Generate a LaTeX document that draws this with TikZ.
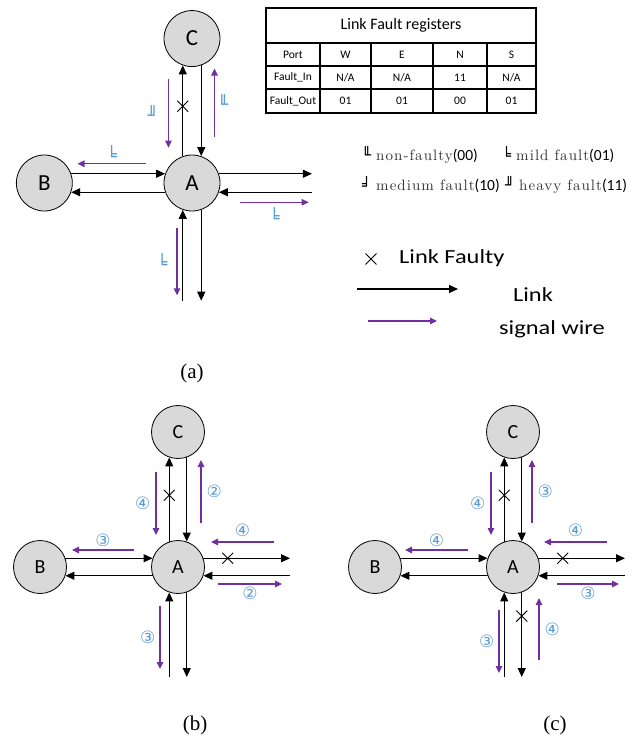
\documentclass[tikz,border=0pt]{standalone}
\usepackage{fontspec}
\usepackage{xcolor}
\usepackage{tikz}
\usetikzlibrary{arrows.meta,shapes.misc,calc}

\newfontfamily\calfont{Carlito}
\newfontfamily\widefont[FakeStretch=1.22]{Carlito}
\newfontfamily\symfont{DejaVu Sans}
\newfontfamily\capfont{Liberation Serif}
\newfontfamily\legfont[LetterSpace=7]{lmroman10-regular.otf}
\newcommand{\fs}[1]{\fontsize{#1}{#1}\selectfont}
\newcommand{\na}{N/A}
\newcommand{\legsym}[1]{{\symfont\fs{15}#1}\hspace{5pt}}
\newcommand{\legword}[1]{{\legfont\color{black!80}\fs{15}#1}}
\newcommand{\legcode}[1]{{\calfont\fs{15.5}#1}}

\definecolor{sigpurple}{HTML}{7030A0}
\definecolor{lblblue}{HTML}{5B9BD5}
\definecolor{nodegray}{HTML}{D9D9D9}

\tikzset{
  router/.style={circle, draw, line width=0.8pt, fill=nodegray, inner sep=0pt},
  link/.style={line width=1.1pt, -{Triangle[length=9pt,width=8pt]}},
  sig/.style={sigpurple, line width=1.1pt, -{Triangle[length=7pt,width=6.5pt]}},
  lbl/.style={lblblue, inner sep=0pt, font=\symfont\fs{17}},
  codelbl/.style={lblblue, inner sep=0pt, font=\symfont\fs{17}},
  fault/.style={cross out, draw, line width=0.9pt, minimum size=10pt, inner sep=0pt},
  cell/.style={font=\calfont\fs{11.5}, inner sep=0pt},
  grid/.style={line width=1.4pt},
}

\newcommand{\router}[3]{%
  \node[router, minimum size=#2, font=\calfont\fs{#3}] (#1A) at (0,0) {A};
  \node[router, minimum size=#2, font=\calfont\fs{#3}] (#1B) at (-138,0) {B};
  \node[router, minimum size=#2, font=\calfont\fs{#3}] (#1C) at (0,135) {C};
  \coordinate (#1E) at (112,0);
  \coordinate (#1S) at (0,-110);
  \draw[link] (#1A.109) -- (#1C.251);
  \draw[link] (#1C.289) -- (#1A.71);
  \draw[link] (#1B.19) -- (#1A.161);
  \draw[link] (#1A.199) -- (#1B.341);
  \draw[link] (#1A.19) -- (#1A.19 -| #1E);
  \draw[link] (#1A.341 -| #1E) -- (#1A.341);
  \draw[link] (#1A.251 |- #1S) -- (#1A.251);
  \draw[link] (#1A.289) -- (#1A.289 |- #1S);
}

\begin{document}
\begin{tikzpicture}[x=1pt,y=1pt]
\useasboundingbox (0,0) rectangle (639,-739);

\begin{scope}[shift={(192,-183)}, scale=1.07]
\router{a}{56pt}{23}
\node[fault] (aXn) at ($(aA.109)!0.55!(aC.251)$) {};
\draw[sig] (-22,97) -- (-22,33) node[codelbl, midway, left=10pt] {╜};
\draw[sig] (21,43) -- (21,107) node[codelbl, midway, right=3pt] {╙};
\draw[sig] (-43,18) -- (-107,18) node[codelbl, midway, above=2pt] {╘};
\draw[sig] (45,-18) -- (109,-18) node[codelbl, midway, below=5pt] {╘};
\draw[sig] (-14,-42) -- (-14,-105) node[codelbl, midway, left=9pt] {╘};
\end{scope}

\draw[grid] (266,-8) rectangle (536,-113);
\foreach \y in {43,66,89}
    \draw[grid] (266,-\y) -- (536,-\y);
\foreach \x in {320,371,433,487}
    \draw[grid] (\x,-43) -- (\x,-113);
\node[font=\calfont\fs{16}] (regTitle) at (401,-25.5) {Link Fault registers};
\foreach \x/\p/\i/\o [count=\k] in {293/Port/Fault\_In/Fault\_Out, 345.5/W/\na/01, 402/E/\na/01, 460/N/11/00, 511.5/S/\na/01}{
    \node[cell] (port\k) at (\x,-54.5) {\p};
    \node[cell] (fin\k) at (\x,-77.5) {\i};
    \node[cell] (fout\k) at (\x,-101) {\o};
}

\node[anchor=west, inner sep=0pt] (legNon) at (362,-155) {\legsym{╙}\legword{non-faulty}\legcode{(00)}};
\node[anchor=west, inner sep=0pt] (legMild) at (502,-155) {\legsym{╘}\legword{mild fault}\legcode{(01)}};
\node[anchor=west, inner sep=0pt] (legMed) at (362,-185) {\legsym{╛}\legword{medium fault}\legcode{(10)}};
\node[anchor=west, inner sep=0pt] (legHvy) at (505,-185) {\legsym{╜}\legword{heavy fault}\legcode{(11)}};

\node[fault] (legX) at (371,-259) {};
\node[anchor=west, inner sep=0pt, font=\widefont\fs{20}] (legFaulty) at (399,-258) {Link Faulty};
\coordinate (legL1) at (357,-289);
\coordinate (legL2) at (458,-289);
\draw[link] (legL1) -- (legL2);
\node[font=\widefont\fs{20}] (legLink) at (533,-295) {Link};
\coordinate (legS1) at (368,-321);
\coordinate (legS2) at (437,-321);
\draw[sig] (legS1) -- (legS2);
\node[font=\widefont\fs{20}] (legSig) at (552,-329) {signal wire};

\node[font=\capfont\fs{21}] (capA) at (192,-373) {(a)};

\begin{scope}[shift={(178,-567)}]
\router{b}{53pt}{20}
\node[fault] (bXn) at ($(bA.109)!0.55!(bC.251)$) {};
\node[fault] (bXe) at ($(bA.19)!0.28!(bA.19 -| bE)$) {};
\draw[sig] (-22,95) -- (-22,32) node[lbl, midway, left=5pt] {④};
\draw[sig] (23,44) -- (23,107) node[lbl, midway, right=5pt] {②};
\draw[sig] (-44,17) -- (-106,17) node[lbl, midway, above=3pt] {③};
\draw[sig] (96,25) -- (33,25) node[lbl, midway, above=5pt] {④};
\draw[sig] (40,-17) -- (104,-17) node[lbl, midway, below=2pt] {②};
\draw[sig] (-18,-39) -- (-18,-102) node[lbl, midway, left=4pt] {③};
\end{scope}
\node[font=\capfont\fs{21}] (capB) at (195,-725) {(b)};

\begin{scope}[shift={(513,-567)}]
\router{c}{53pt}{20}
\node[fault] (cXn) at ($(cA.109)!0.55!(cC.251)$) {};
\node[fault] (cXe) at ($(cA.19)!0.28!(cA.19 -| cE)$) {};
\node[fault] (cXs) at ($(cA.289)!0.28!(cA.289 |- cS)$) {};
\draw[sig] (-22,95) -- (-22,32) node[lbl, midway, left=5pt] {④};
\draw[sig] (19,44) -- (19,107) node[lbl, midway, right=5pt] {③};
\draw[sig] (-45,17) -- (-108,17) node[lbl, midway, above=3pt] {④};
\draw[sig] (94,25) -- (31,25) node[lbl, midway, above=5pt] {④};
\draw[sig] (44,-17) -- (106,-17) node[lbl, midway, below=2pt] {③};
\draw[sig] (-14,-43) -- (-14,-106) node[lbl, midway, left=4pt] {③};
\draw[sig] (26,-93) -- (26,-31) node[lbl, midway, right=5pt] {④};
\end{scope}
\node[font=\capfont\fs{21}] (capC) at (555,-725) {(c)};

\end{tikzpicture}
\end{document}
